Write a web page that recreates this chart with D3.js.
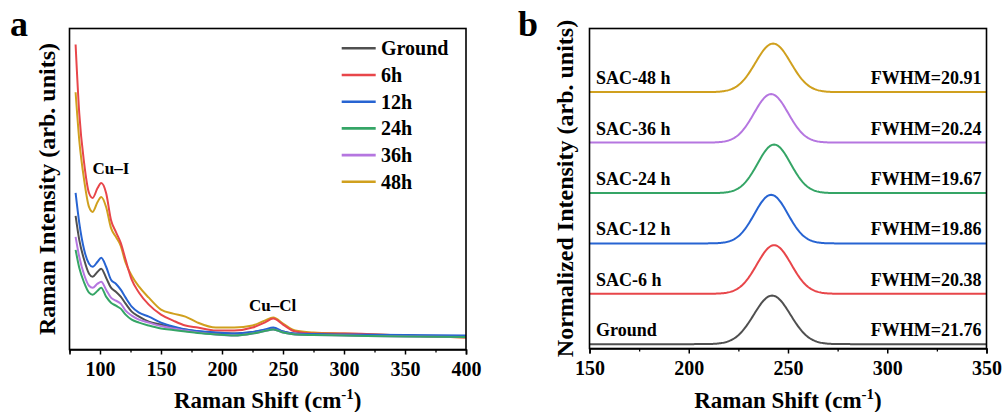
<!DOCTYPE html>
<html>
<head>
<meta charset="utf-8">
<script src="https://cdn.jsdelivr.net/npm/d3@7"></script>
<style>
  html, body { margin: 0; padding: 0; background: #fff; }
  svg { display: block; }
  text { font-family: "Liberation Serif", "Times New Roman", serif; font-weight: bold; fill: #000; }
</style>
</head>
<body>
<svg id="fig" width="1005" height="412"></svg>
<script>
// ---------- Panel a: raw Raman spectra ----------
const shiftA = [80, 83, 87, 91, 94, 98, 101, 105, 109, 113, 117, 121, 126, 132, 140,
                150, 160, 170, 180, 195, 210, 225, 235, 242, 250, 260, 275, 300, 350, 400];
const seriesNames = ["Ground", "6h", "12h", "24h", "36h", "48h"];
const seriesColors = ["#505050", "#e8464a", "#2764d2", "#35a566", "#b576e0", "#d0a01e"];
const groundA = [134, 110, 90, 76, 73, 78, 81, 72, 62, 58, 53, 46, 38, 33, 28,
                 25, 22, 20, 18, 16.5, 16, 17.5, 19.5, 20.5, 18, 15.5, 15, 14.5, 13.5, 13];
const h6A     = [306, 237, 187, 157, 152, 162, 167, 157, 130, 118, 107, 90, 70, 57, 45,
                 35, 29, 24, 22, 19, 19, 22, 27, 31, 25, 18, 16, 16, 14, 12];
const h12A    = [157, 127, 100, 86, 83, 88, 92, 83, 70, 66, 60, 52, 43, 37, 33,
                 27, 23, 20, 18.5, 17, 16, 17.5, 20, 22, 18, 16, 15.5, 15, 14.5, 14];
const h24A    = [100, 82, 67, 57, 55, 59, 62, 53, 47, 44, 41, 35, 30, 27, 24,
                 21, 19.5, 18, 16.5, 15, 14, 16, 18.5, 20, 17, 15, 14.5, 14, 13, 12.5];
const h36A    = [113, 93, 75, 64, 62, 66, 68, 60, 52, 49, 46, 39, 34, 30, 27,
                 23.5, 21, 19, 17, 15, 14, 16, 18.5, 20, 17, 15, 14.5, 14, 13, 12.5];
const h48A    = [258, 210, 170, 143, 138, 148, 153, 143, 122, 113, 104, 87, 74, 63, 52,
                 40, 36, 33, 27, 22, 22, 24, 29, 32, 26, 19, 17, 16, 14, 12];
const valuesA = [groundA, h6A, h12A, h24A, h36A, h48A];
const ticksA = [100, 150, 200, 250, 300, 350, 400];
const minorTicksA = [75, 125, 175, 225, 275, 325, 375];
const bandLabels = [{ text: "Cu\u2013I", x: 109, y: 176 }, { text: "Cu\u2013Cl", x: 241.5, y: 39 }];

// ---------- Panel b: fitted Cu–Cl band ----------
const sampleNames = ["Ground", "SAC-6 h", "SAC-12 h", "SAC-24 h", "SAC-36 h", "SAC-48 h"];
const fwhm = [21.76, 20.38, 19.86, 19.67, 20.24, 20.91];
const centers = [242, 243, 241.5, 243, 241.5, 242.5];
const stackOffsets = [0, 1.037, 2.074, 3.11, 4.15, 5.19];
const ticksB = [150, 200, 250, 300, 350];
const minorTicksB = [175, 225, 275, 325];

const svg = d3.select("#fig");

function frame(g, x0, x1, y0, y1) {
  g.append("rect").attr("x", x0).attr("y", y0).attr("width", x1 - x0).attr("height", y1 - y0)
    .attr("fill", "none").attr("stroke", "#000").attr("stroke-width", 1.6);
}

function bottomAxis(g, x, y0, ticks, minor) {
  const ax = g.append("g").attr("transform", `translate(0,${y0})`)
    .call(d3.axisBottom(x).tickValues(ticks).tickSize(5).tickPadding(7).tickFormat(d3.format("d")));
  ax.select(".domain").attr("stroke-width", 1.6);
  ax.selectAll(".tick line").attr("stroke-width", 1.5);
  ax.selectAll("text").attr("font-size", 20).attr("font-family", "Liberation Serif").attr("font-weight", "bold");
  const mn = g.append("g").attr("transform", `translate(0,${y0})`)
    .call(d3.axisBottom(x).tickValues(minor).tickSize(3).tickFormat(""));
  mn.select(".domain").remove();
  mn.selectAll(".tick line").attr("stroke-width", 1.3);
}

function xTitle(g, cx) {
  const t = g.append("text").attr("x", cx).attr("y", 408).attr("text-anchor", "middle").attr("font-size", 23);
  t.append("tspan").text("Raman Shift (cm");
  t.append("tspan").attr("font-size", 15).attr("dy", -9).text("-1");
  t.append("tspan").attr("dy", 9).text(")");
}

function yTitle(g, x, cy, label) {
  g.append("text").attr("transform", `translate(${x},${cy}) rotate(-90)`)
    .attr("text-anchor", "middle").attr("font-size", 24).text(label);
}

// ----- panel a -----
const A = { l: 69.5, r: 466, t: 28.5, b: 349.5 };
const xA = d3.scaleLinear().domain([75, 400]).range([A.l, A.r]);
const yA = d3.scaleLinear().domain([0, 322]).range([A.b, A.t]);
const gA = svg.append("g");

gA.append("clipPath").attr("id", "clipA").append("rect")
  .attr("x", A.l).attr("y", A.t).attr("width", A.r - A.l).attr("height", A.b - A.t);

const lineA = d3.line().x((d, i) => xA(shiftA[i])).y(d => yA(d)).curve(d3.curveMonotoneX);
const drawOrder = [5, 1, 0, 2, 4, 3];
gA.append("g").attr("clip-path", "url(#clipA)").selectAll("path")
  .data(drawOrder).join("path")
  .attr("d", k => lineA(valuesA[k]))
  .attr("fill", "none").attr("stroke", k => seriesColors[k]).attr("stroke-width", 2);

gA.selectAll("text.band").data(bandLabels).join("text").attr("class", "band")
  .attr("x", d => xA(d.x)).attr("y", d => yA(d.y)).attr("text-anchor", "middle")
  .attr("font-size", 17).text(d => d.text);

// legend
const legA = gA.append("g");
seriesNames.forEach((name, i) => {
  const yy = 48.3 + i * 26.7;
  legA.append("line").attr("x1", 341.7).attr("x2", 375.7).attr("y1", yy).attr("y2", yy)
    .attr("stroke", seriesColors[i]).attr("stroke-width", 2.6);
  legA.append("text").attr("x", 381).attr("y", yy + 7).attr("font-size", 20).text(name);
});

frame(gA, A.l, A.r, A.t, A.b);
bottomAxis(gA, xA, A.b, ticksA, minorTicksA);
xTitle(gA, (A.l + A.r) / 2);
yTitle(gA, 55, (A.t + A.b) / 2, "Raman Intensity (arb. units)");
gA.append("text").attr("x", 10).attr("y", 36).attr("font-size", 36).text("a");

// ----- panel b -----
const B = { l: 589.5, r: 986.5, t: 28.5, b: 348.5 };
const xB = d3.scaleLinear().domain([150, 350]).range([B.l, B.r]);
const yB = d3.scaleLinear().domain([-0.09, 6.5]).range([B.b, B.t]);
const gB = svg.append("g");

gB.append("clipPath").attr("id", "clipB").append("rect")
  .attr("x", B.l).attr("y", B.t).attr("width", B.r - B.l).attr("height", B.b - B.t);

// normalized Gaussian profile with the stated FWHM for each sample
const gridB = d3.range(150, 350.01, 0.5);
const lineB = d3.line().x(d => xB(d[0])).y(d => yB(d[1]));
const profiles = sampleNames.map((n, i) => {
  const s = fwhm[i] / (2 * Math.sqrt(2 * Math.LN2));
  return gridB.map(v => [v, stackOffsets[i] + Math.exp(-0.5 * ((v - centers[i]) / s) ** 2)]);
});

gB.append("g").attr("clip-path", "url(#clipB)").selectAll("path")
  .data(profiles).join("path")
  .attr("d", lineB).attr("fill", "none")
  .attr("stroke", (d, i) => seriesColors[i]).attr("stroke-width", 2);

sampleNames.forEach((name, i) => {
  const yy = yB(stackOffsets[i]) - 8;
  gB.append("text").attr("x", 596).attr("y", yy).attr("font-size", 18).text(name);
  gB.append("text").attr("x", 981.5).attr("y", yy).attr("text-anchor", "end")
    .attr("font-size", 18).text("FWHM=" + fwhm[i].toFixed(2));
});

frame(gB, B.l, B.r, B.t, B.b);
bottomAxis(gB, xB, B.b, ticksB, minorTicksB);
xTitle(gB, (B.l + B.r) / 2);
yTitle(gB, 573, (B.t + B.b) / 2, "Normalized Intensity (arb. units)");
gB.append("text").attr("x", 518).attr("y", 36).attr("font-size", 36).text("b");
</script>
</body>
</html>
